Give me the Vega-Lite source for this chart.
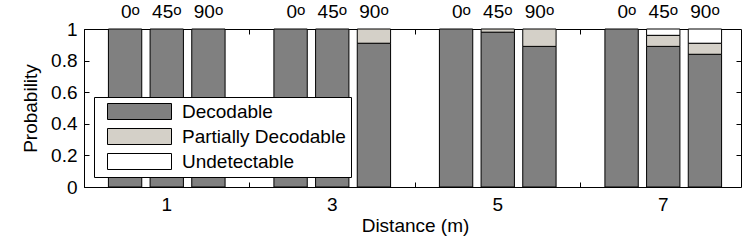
{
  "$schema": "https://vega.github.io/schema/vega-lite/v6.json",
  "width": 657,
  "height": 158,
  "autosize": {"type": "none"},
  "padding": {"left": 84, "top": 29, "right": 6, "bottom": 64},
  "background": "white",
  "config": {
    "font": "Liberation Sans",
    "view": {"stroke": "black", "strokeWidth": 1},
    "axis": {
      "labelFont": "Liberation Sans",
      "titleFont": "Liberation Sans",
      "labelFontSize": 19,
      "titleFontSize": 19,
      "titleFontWeight": "normal",
      "labelColor": "black",
      "titleColor": "black",
      "tickColor": "black",
      "domain": false,
      "grid": false,
      "tickSize": -5,
      "tickWidth": 1
    },
    "legend": {
      "orient": "none",
      "legendX": 10,
      "legendY": 68,
      "padding": 5,
      "strokeColor": "black",
      "fillColor": "white",
      "labelFont": "Liberation Sans",
      "labelFontSize": 19,
      "labelColor": "black",
      "labelLimit": 400,
      "symbolType": "M-4,-1H4V1H-4Z",
      "symbolSize": 256,
      "symbolStrokeColor": "black",
      "symbolStrokeWidth": 1,
      "symbolOpacity": 1,
      "symbolOffset": 31,
      "labelOffset": 33,
      "rowPadding": 4
    }
  },
  "data": {
    "values": [
      {"distance": 1, "angle": "0", "category": "Decodable", "value": 1},
      {"distance": 1, "angle": "45", "category": "Decodable", "value": 1},
      {"distance": 1, "angle": "90", "category": "Decodable", "value": 1},
      {"distance": 3, "angle": "0", "category": "Decodable", "value": 1},
      {"distance": 3, "angle": "45", "category": "Decodable", "value": 1},
      {"distance": 3, "angle": "90", "category": "Decodable", "value": 0.91},
      {"distance": 3, "angle": "90", "category": "Partially Decodable", "value": 0.09},
      {"distance": 5, "angle": "0", "category": "Decodable", "value": 1},
      {"distance": 5, "angle": "45", "category": "Decodable", "value": 0.98},
      {"distance": 5, "angle": "45", "category": "Partially Decodable", "value": 0.02},
      {"distance": 5, "angle": "90", "category": "Decodable", "value": 0.89},
      {"distance": 5, "angle": "90", "category": "Partially Decodable", "value": 0.11},
      {"distance": 7, "angle": "0", "category": "Decodable", "value": 1},
      {"distance": 7, "angle": "45", "category": "Decodable", "value": 0.89},
      {"distance": 7, "angle": "45", "category": "Partially Decodable", "value": 0.07},
      {"distance": 7, "angle": "45", "category": "Undetectable", "value": 0.04},
      {"distance": 7, "angle": "90", "category": "Decodable", "value": 0.84},
      {"distance": 7, "angle": "90", "category": "Partially Decodable", "value": 0.07},
      {"distance": 7, "angle": "90", "category": "Undetectable", "value": 0.09}
    ]
  },
  "layer": [
    {
      "mark": {"type": "bar", "stroke": "black", "strokeWidth": 1},
      "encoding": {
        "x": {
          "field": "distance",
          "type": "ordinal",
          "scale": {"domain": [1, 3, 5, 7], "range": [0, 662], "paddingInner": 0, "paddingOuter": 0},
          "axis": {"orient": "bottom", "title": "Distance (m)", "labelAngle": 0, "bandPosition": 0, "tickExtra": false, "labelPadding": 13, "titlePadding": 2}
        },
        "xOffset": {
          "field": "angle",
          "type": "nominal",
          "scale": {"domain": ["0", "45", "90"], "paddingInner": 0.2, "paddingOuter": 0.586}
        },
        "y": {
          "field": "value",
          "type": "quantitative",
          "stack": "zero",
          "scale": {"domain": [0, 1], "nice": false},
          "axis": {"orient": "left", "title": "Probability", "values": [0, 0.2, 0.4, 0.6, 0.8, 1], "format": "~g", "labelPadding": 12, "titlePadding": 10}
        },
        "color": {
          "field": "category",
          "type": "nominal",
          "scale": {"domain": ["Decodable", "Partially Decodable", "Undetectable"], "range": ["#808080", "#d4d0c8", "#ffffff"]},
          "legend": {"title": null}
        },
        "order": {"field": "category", "sort": "ascending"}
      }
    },
    {
      "transform": [{"filter": "datum.category === 'Decodable'"}],
      "mark": {"type": "text", "fontSize": 19, "dx": 6.5, "dy": -10.7, "baseline": "alphabetic", "align": "right", "color": "black"},
      "encoding": {
        "x": {
          "field": "distance",
          "type": "ordinal",
          "axis": {"orient": "top", "labels": false, "title": null, "bandPosition": 0, "tickExtra": false}
        },
        "xOffset": {"field": "angle", "type": "nominal"},
        "y": {
          "datum": 1,
          "type": "quantitative",
          "axis": {"orient": "right", "labels": false, "title": null, "values": [0.2, 0.4, 0.6, 0.8]}
        },
        "text": {"field": "angle"}
      }
    },
    {
      "transform": [{"filter": "datum.category === 'Decodable'"}],
      "mark": {"type": "text", "text": "o", "fontSize": 15, "dx": 6.5, "dy": -14.5, "baseline": "alphabetic", "align": "left", "color": "black"},
      "encoding": {
        "x": {"field": "distance", "type": "ordinal", "axis": null},
        "xOffset": {"field": "angle", "type": "nominal"},
        "y": {"datum": 1, "type": "quantitative", "axis": null}
      }
    }
  ],
  "resolve": {"axis": {"x": "independent", "y": "independent"}}
}
